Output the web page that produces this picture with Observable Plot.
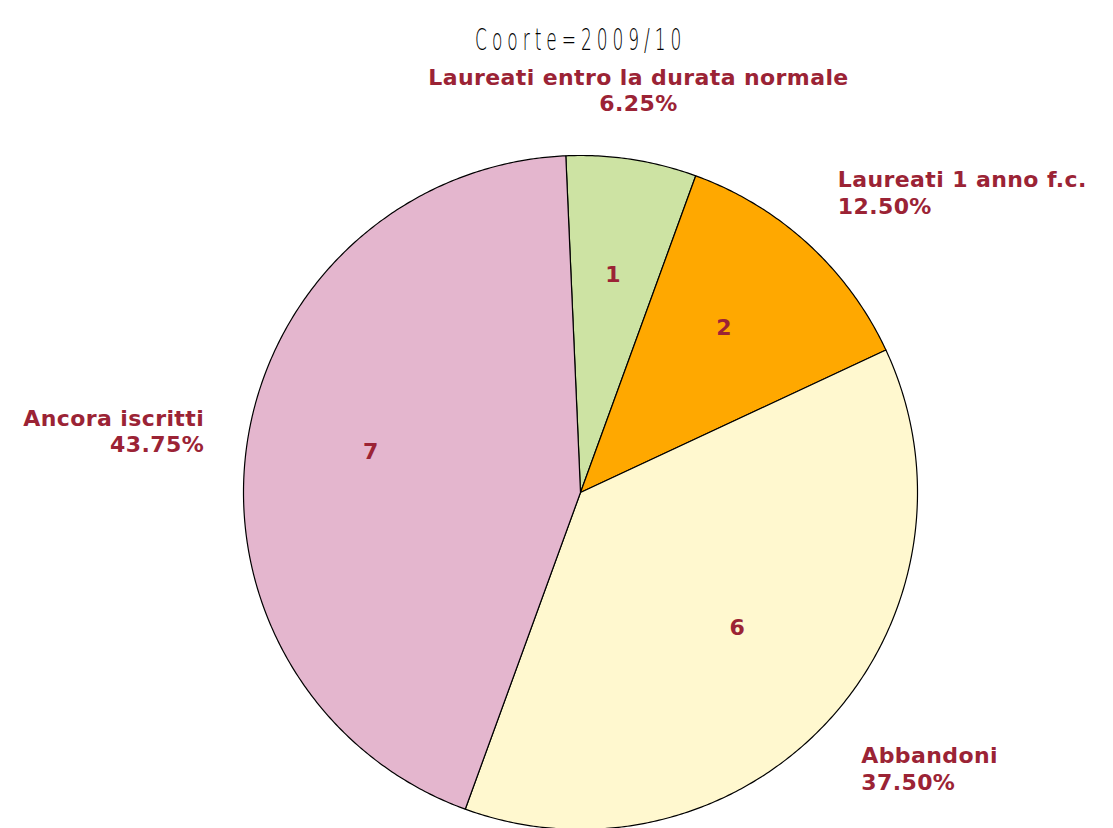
<!DOCTYPE html>
<html>
<head>
<meta charset="utf-8">
<script src="https://cdn.jsdelivr.net/npm/d3@7"></script>
<script src="https://cdn.jsdelivr.net/npm/@observablehq/plot@0.6"></script>
<style>
  html, body { margin: 0; padding: 0; background: #fff; overflow: hidden; }
  #chart svg { display: block; }
</style>
</head>
<body>
<div id="chart"></div>
<script>
const title = "Coorte=2009/10";
const categories = ["Laureati entro la durata normale", "Laureati 1 anno f.c.", "Abbandoni", "Ancora iscritti"];
const counts = [1, 2, 6, 7];
const sliceColors = ["#cde3a3", "#ffa800", "#fff8cf", "#e4b6ce"];
const startDeg = -2.5;

const labelColor = "#9b2335";
const total = d3.sum(counts);
const start = startDeg * Math.PI / 180;
const arcs = d3.pie().sort(null).startAngle(start).endAngle(start + 2 * Math.PI)(counts);

// polygon points for each slice
const pts = [];
arcs.forEach((a, i) => {
  const cat = categories[i];
  pts.push({cat, x: 0, y: 0});
  const n = Math.max(4, Math.ceil((a.endAngle - a.startAngle) / (Math.PI / 360)));
  for (let k = 0; k <= n; k++) {
    const t = a.startAngle + (a.endAngle - a.startAngle) * k / n;
    pts.push({cat, x: Math.sin(t), y: Math.cos(t)});
  }
  pts.push({cat, x: 0, y: 0});
});

const slices = arcs.map((a, i) => {
  const mid = (a.startAngle + a.endAngle) / 2;
  return {
    cat: categories[i],
    count: counts[i],
    pct: (counts[i] / total * 100).toFixed(2) + "%",
    mid,
    ix: 0.63 * Math.sin(mid), iy: 0.63 * Math.cos(mid),
    ox: 1.13 * Math.sin(mid), oy: 1.21 * Math.cos(mid),
    side: Math.abs(Math.sin(mid)) < 0.3 ? "middle" : (Math.sin(mid) > 0 ? "start" : "end")
  };
});

const textStyle = {fontFamily: "DejaVu Sans", fontWeight: "bold", fontSize: 22, fill: labelColor};
const outer = (side) => Plot.text(slices.filter(d => d.side === side), {
  x: "ox", y: "oy", text: d => d.cat + "\n" + d.pct, textAnchor: side, lineHeight: 1.2, ...textStyle
});

const plot = Plot.plot({
  width: 1113, height: 828,
  margin: 0,
  x: {domain: [-1, 1], range: [243, 917], axis: null},
  y: {domain: [-1, 1], range: [829, 155], axis: null},
  color: {domain: categories, range: sliceColors},
  marks: [
    Plot.line(pts, {x: "x", y: "y", z: "cat", fill: "cat", stroke: "black", strokeWidth: 1.2, curve: "linear"}),
    Plot.text(slices, {x: "ix", y: "iy", dy: -8, text: d => String(d.count), ...textStyle}),
    outer("middle"), outer("start"), outer("end"),
    Plot.text([title], {x: () => 0, frameAnchor: "top", dy: 27, text: d => d, fontFamily: "DejaVu Sans", fontWeight: 200, fontSize: 31, fill: "black"})
  ]
});
document.getElementById("chart").appendChild(plot);
const svgRect = plot.getBoundingClientRect();
plot.querySelectorAll("text").forEach(t => {
  if (t.textContent === title) {
    t.style.letterSpacing = "9px";
    const r = t.getBoundingClientRect();
    const cx = r.left - svgRect.left + r.width / 2;
    const g = document.createElementNS("http://www.w3.org/2000/svg", "g");
    g.setAttribute("transform", `translate(${cx},0) scale(0.55,1) translate(${-cx},0)`);
    t.parentNode.insertBefore(g, t);
    g.appendChild(t);
  } else if (t.textContent.length > 2) {
    t.style.letterSpacing = "0.4px";
  }
});
</script>
</body>
</html>
